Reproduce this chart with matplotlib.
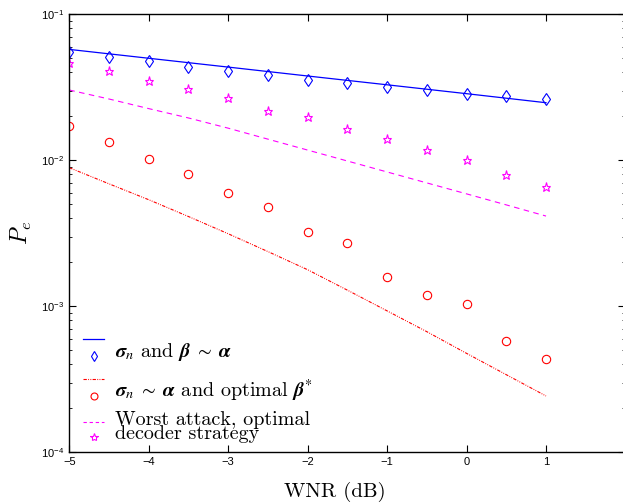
import numpy as np
import matplotlib
matplotlib.use("Agg")
import matplotlib.pyplot as plt

plt.rcParams["font.family"] = "Liberation Sans"

# WNR grid (dB)
wnr = [-5, -4.5, -4, -3.5, -3, -2.5, -2, -1.5, -1, -0.5, 0, 0.5, 1]

# sigma_n and beta ~ alpha: simulated (diamonds) and analytical (solid line)
pe_beta_sim = [0.0554, 0.051, 0.0476, 0.0434, 0.0407, 0.0382, 0.0357,
               0.0338, 0.0319, 0.0303, 0.0284, 0.0276, 0.0263]
wnr_line = [-5, -4, -3, -2, -1, 0, 1]
pe_beta_th = [0.0575, 0.050, 0.0435, 0.0378, 0.0329, 0.0286, 0.0248]

# sigma_n ~ alpha and optimal beta*: simulated (circles) and analytical (dash-dot)
pe_opt_sim = [0.01726, 0.01328, 0.01025, 0.00802, 0.0060, 0.00476, 0.00321,
              0.00272, 0.00159, 0.00119, 0.00104, 0.00058, 0.000436]
pe_opt_th = [0.0089, 0.0069, 0.00537, 0.00412, 0.00314, 0.00237, 0.00178,
             0.00129, 0.00093, 0.00067, 0.000476, 0.00034, 0.000243]

# worst attack, optimal decoder: simulated (stars) and analytical (dashed)
pe_worst_sim = [0.0466, 0.0407, 0.0351, 0.0308, 0.0267, 0.0219, 0.0197,
                0.0164, 0.0139, 0.0118, 0.01005, 0.0079, 0.0066]
pe_worst_th = [0.0303, 0.0263, 0.0226, 0.0195, 0.0166, 0.01396, 0.01175,
               0.00989, 0.00832, 0.0070, 0.00589, 0.00495, 0.00415]

blue = (0, 0, 1)
red = (1, 0, 0)
mag = (1, 0, 1)
dashdot = (0, (3, 1.2, 0.8, 1.2, 0.8, 1.2))

fig = plt.figure(figsize=(6.23, 5.04), dpi=100)
ax = fig.add_axes([0.1112, 0.1026, 0.8928, 0.869])

ax.plot(wnr_line, pe_beta_th, color=blue, lw=0.9)
ax.plot(wnr, pe_beta_sim, ls="none", marker="d", ms=6.5, mfc="none", mec=blue, mew=0.8)
ax.plot(wnr, pe_opt_th, color=red, lw=0.8, ls=dashdot)
ax.plot(wnr, pe_opt_sim, ls="none", marker="o", ms=6, mfc="none", mec=red, mew=0.8)
ax.plot(wnr, pe_worst_th, color=mag, lw=0.8, ls=(0, (5, 4)))
ax.plot(wnr, pe_worst_sim, ls="none", marker="*", ms=6.5, mfc="none", mec=mag, mew=0.8)

ax.set_yscale("log")
ax.set_xlim(-5, 2)
ax.set_ylim(1e-4, 1e-1)
ax.set_xticks(range(-5, 3))
ax.tick_params(which="both", direction="in", top=True, right=True, labelsize=8)
ax.tick_params(which="major", length=5, width=0.8)
ax.tick_params(which="minor", length=2.5, width=0.6)
for s in ax.spines.values():
    s.set_linewidth(1.0)

ax.set_xlabel("WNR (dB)", family="cmr10", fontsize=15)
ax.xaxis.set_label_coords(0.477, -0.067)
ax.set_ylabel(r"$P_e$", fontsize=17, math_fontfamily="cm", rotation=90)
ax.yaxis.set_label_coords(-0.063, 0.5)

# hand-made legend, MATLAB style (line row and marker row)
tr = ax.transAxes
x0, x1, xm, xt = 0.0252, 0.0629, 0.045, 0.082
ax.plot([x0, x1], [0.2587, 0.2587], color=blue, lw=0.9, transform=tr)
ax.plot([xm], [0.22], marker="d", ms=5.5, mfc="none", mec=blue, mew=0.8, transform=tr)
ax.plot([x0, x1], [0.1674, 0.1674], color=red, lw=0.8, ls=dashdot, transform=tr)
ax.plot([xm], [0.129], marker="o", ms=5, mfc="none", mec=red, mew=0.8, transform=tr)
ax.plot([x0, x1], [0.0699, 0.0699], color=mag, lw=0.8, ls=(0, (3, 2.5)), transform=tr)
ax.plot([xm], [0.0342], marker="*", ms=6, mfc="none", mec=mag, mew=0.8, transform=tr)

lkw = dict(transform=tr, family="cmr10", fontsize=14.5, va="baseline",
           math_fontfamily="stix")
ax.text(xt, 0.2185, r"$\mathbfit{\sigma}_n$ and $\mathbfit{\beta}\ \sim\ \mathbfit{\alpha}$", **lkw)
ax.text(xt, 0.127, r"$\mathbfit{\sigma}_n\ \sim\ \mathbfit{\alpha}$ and optimal $\mathbfit{\beta}^{*}$", **lkw)
ax.text(xt, 0.0623, "Worst attack, optimal", **lkw)
ax.text(xt, 0.0297, "decoder strategy", **lkw)

fig.savefig("out.png", dpi=100)
